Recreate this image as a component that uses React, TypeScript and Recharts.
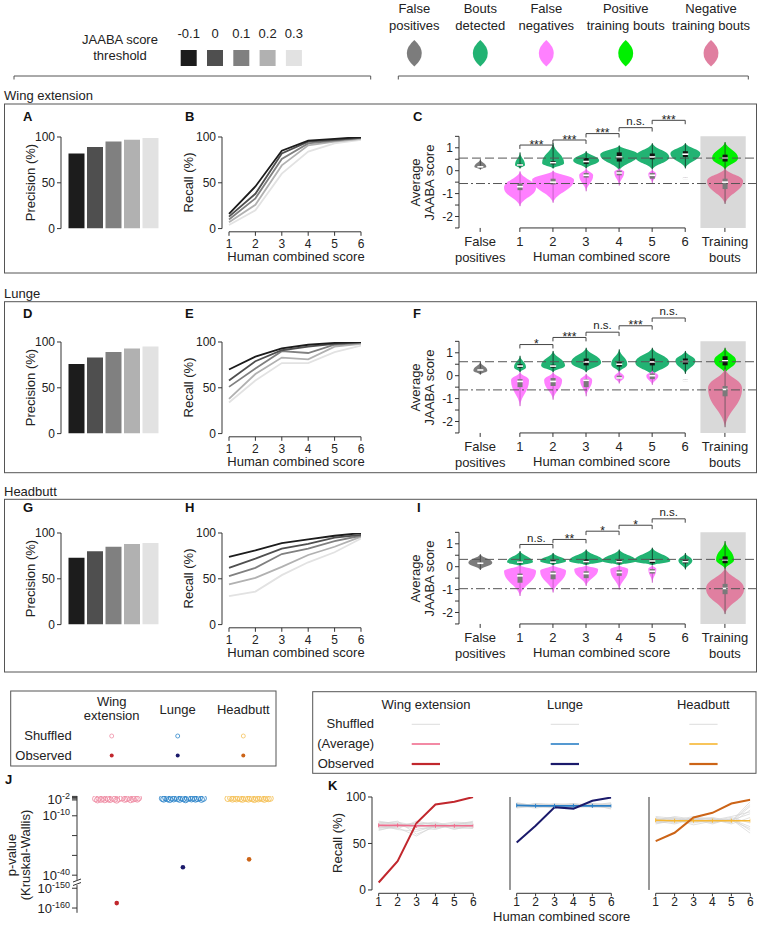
import React from "react"
import {
  BarChart,
  Bar,
  Cell,
  LineChart,
  Line,
  ComposedChart,
  Scatter,
  XAxis,
  YAxis,
  ReferenceLine,
  ReferenceArea,
} from "recharts"

const FONT = "'Liberation Sans', Arial, Helvetica, sans-serif"
const INK = "#222"
const AXIS = "#333"

// ---------- categories / legend ----------
const thresholdLabels = ["-0.1", "0", "0.1", "0.2", "0.3"]
const thresholdColors = ["#1c1c1c", "#4f4f4f", "#808080", "#b1b1b1", "#e2e2e2"]
const humanScores = [1, 2, 3, 4, 5, 6]
const behaviours = ["Wing extension", "Lunge", "Headbutt"]
const violinLegend = [
  ["False", "positives"],
  ["Bouts", "detected"],
  ["False", "negatives"],
  ["Positive", "training bouts"],
  ["Negative", "training bouts"],
]

// ---------- precision (%) per threshold ----------
const precisionWing = [82, 89, 95, 97, 99]
const precisionLunge = [76, 83, 89, 93, 95]
const precisionHeadbutt = [73, 80, 85, 88, 89]

// ---------- recall (%) per threshold, by human score ----------
const recallWing = [
  [16, 46, 85, 96, 98, 100],
  [13, 38, 82, 95, 97, 99],
  [10, 33, 76, 93, 96, 99],
  [7, 26, 69, 91, 95, 98],
  [4, 20, 60, 84, 93, 97],
]
const recallLunge = [
  [70, 84, 93, 97, 99, 100],
  [58, 79, 91, 95, 98, 100],
  [51, 71, 90, 88, 97, 99],
  [38, 65, 83, 81, 95, 98],
  [34, 58, 77, 77, 89, 96],
]
const recallHeadbutt = [
  [74, 81, 89, 93, 97, 100],
  [62, 72, 83, 88, 95, 98],
  [53, 62, 77, 83, 91, 97],
  [44, 51, 63, 76, 85, 96],
  [31, 36, 54, 68, 79, 94],
]

// ---------- violins: [slot, kind, min, max, mode, density, q1, median, q3] ----------
type Kind = "fp" | "det" | "fn" | "pos" | "neg"
type Violin = [string | number, Kind, number, number, number, number, number, number, number]

const violinsWing: Violin[] = [
  ["fp", "fp", 0.05, 0.5, 0.17, 0.3, 0.12, 0.17, 0.22],
  [1, "det", 0.1, 0.8, 0.25, 0.25, 0.2, 0.25, 0.3],
  [2, "det", 0.1, 1.2, 0.33, 0.55, 0.28, 0.35, 0.42],
  [3, "det", 0.1, 0.85, 0.45, 0.65, 0.3, 0.4, 0.55],
  [4, "det", 0.0, 1.1, 0.7, 0.95, 0.4, 0.6, 0.8],
  [5, "det", 0.05, 1.2, 0.6, 0.85, 0.5, 0.6, 0.75],
  [6, "det", 0.1, 1.2, 0.75, 0.75, 0.6, 0.72, 0.85],
  [1, "fn", -1.55, -0.03, -0.75, 0.8, -0.85, -0.7, -0.55],
  [2, "fn", -1.4, 0.0, -0.4, 1.05, -0.6, -0.5, -0.35],
  [3, "fn", -0.9, 0.1, -0.2, 0.35, -0.3, -0.2, -0.1],
  [4, "fn", -0.65, 0.1, -0.05, 0.25, -0.2, -0.1, 0.0],
  [5, "fn", -0.55, 0.05, -0.15, 0.2, -0.35, -0.2, -0.1],
  [6, "fn", -0.36, -0.3, -0.33, 0, -0.36, -0.33, -0.3],
  ["tr", "pos", 0.05, 1.25, 0.55, 0.65, 0.4, 0.55, 0.7],
  ["tr", "neg", -1.45, 0.1, -0.45, 0.9, -0.8, -0.5, -0.35],
]
const violinsLunge: Violin[] = [
  ["fp", "fp", 0.05, 0.6, 0.23, 0.35, 0.18, 0.25, 0.32],
  [1, "det", 0.15, 0.87, 0.37, 0.3, 0.35, 0.42, 0.5],
  [2, "det", 0.15, 1.08, 0.44, 0.6, 0.35, 0.42, 0.48],
  [3, "det", 0.15, 1.22, 0.58, 0.75, 0.45, 0.6, 0.75],
  [4, "det", 0.15, 1.15, 0.5, 0.4, 0.4, 0.5, 0.6],
  [5, "det", 0.0, 1.22, 0.58, 0.85, 0.45, 0.6, 0.75],
  [6, "det", 0.08, 1.08, 0.65, 0.5, 0.5, 0.62, 0.75],
  [1, "fn", -1.33, 0.15, -0.2, 0.45, -0.5, -0.25, -0.15],
  [2, "fn", -1.05, 0.15, -0.2, 0.45, -0.45, -0.25, -0.1],
  [3, "fn", -0.9, 0.08, -0.2, 0.3, -0.5, -0.2, -0.15],
  [4, "fn", -0.34, 0.22, -0.05, 0.25, -0.15, -0.1, 0.0],
  [5, "fn", -0.4, 0.22, 0.0, 0.3, -0.15, 0.0, 0.1],
  [6, "fn", -0.23, -0.17, -0.2, 0, -0.23, -0.2, -0.17],
  ["tr", "pos", 0.08, 1.22, 0.65, 0.55, 0.45, 0.65, 0.85],
  ["tr", "neg", -2.25, 0.3, -0.55, 0.85, -0.9, -0.6, -0.45],
]
const violinsHeadbutt: Violin[] = [
  ["fp", "fp", -0.14, 0.54, 0.17, 0.6, 0.12, 0.15, 0.2],
  [1, "det", 0.03, 0.68, 0.2, 0.65, 0.15, 0.2, 0.25],
  [2, "det", 0.06, 0.6, 0.25, 0.65, 0.15, 0.2, 0.28],
  [3, "det", 0.06, 0.75, 0.25, 0.85, 0.15, 0.22, 0.32],
  [4, "det", 0.06, 0.75, 0.25, 0.85, 0.15, 0.22, 0.32],
  [5, "det", 0.06, 0.83, 0.25, 0.9, 0.15, 0.25, 0.32],
  [6, "det", -0.12, 0.6, 0.27, 0.35, 0.15, 0.22, 0.3],
  [1, "fn", -1.28, 0.06, -0.19, 0.8, -0.7, -0.4, -0.3],
  [2, "fn", -1.13, 0.06, -0.19, 0.65, -0.55, -0.3, -0.2],
  [3, "fn", -0.84, 0.06, -0.12, 0.6, -0.5, -0.3, -0.2],
  [4, "fn", -1.0, 0.06, -0.12, 0.45, -0.4, -0.25, -0.15],
  [5, "fn", -0.7, 0.06, -0.1, 0.2, -0.3, -0.2, -0.1],
  ["tr", "pos", -0.1, 1.12, 0.3, 0.45, 0.15, 0.3, 0.45],
  ["tr", "neg", -2.07, -0.05, -0.96, 0.95, -1.2, -0.95, -0.75],
]

// JAABA thresholds drawn as dashed (positive) and dash-dot (negative) lines
const scoreThresholdsWing = [0.55, -0.56]
const scoreThresholdsLunge = [0.61, -0.62]
const scoreThresholdsHeadbutt = [0.32, -0.96]

// significance: [from, to, bracket level, label]
type Sig = [number, number, number, string]
const sigWing: Sig[] = [
  [1, 2, 1.12, "***"],
  [2, 3, 1.34, "***"],
  [3, 4, 1.62, "***"],
  [4, 5, 1.88, "n.s."],
  [5, 6, 2.2, "***"],
]
const sigLunge: Sig[] = [
  [1, 2, 1.36, "*"],
  [2, 3, 1.67, "***"],
  [3, 4, 1.9, "n.s."],
  [4, 5, 2.18, "***"],
  [5, 6, 2.52, "n.s."],
]
const sigHeadbutt: Sig[] = [
  [1, 2, 0.97, "n.s."],
  [2, 3, 1.19, "**"],
  [3, 4, 1.55, "*"],
  [4, 5, 1.81, "*"],
  [5, 6, 2.09, "n.s."],
]

// ---------- J: Kruskal-Wallis p-values, as -log10(p) ----------
// shuffled: [jitter within category, -log10 p]
const shuffledPWing = [
  [-0.32, 1.4], [-0.29, 2.0], [-0.27, 1.1], [-0.24, 1.7], [-0.21, 1.3], [-0.18, 1.9],
  [-0.15, 1.0], [-0.13, 1.5], [-0.1, 1.8], [-0.06, 1.2], [-0.03, 1.6], [0.0, 2.1],
  [0.04, 1.3], [0.08, 1.0], [0.12, 1.7], [0.15, 1.4], [0.18, 1.1], [0.21, 1.9],
  [0.25, 1.5], [0.28, 1.2], [0.31, 1.6], [0.33, 1.0],
]
const shuffledPLunge = [
  [-0.31, 1.2], [-0.29, 1.6], [-0.26, 0.9], [-0.23, 1.4], [-0.2, 1.8], [-0.17, 1.1],
  [-0.14, 1.5], [-0.11, 0.8], [-0.08, 1.3], [-0.05, 1.7], [-0.02, 1.0], [0.01, 1.4],
  [0.04, 1.9], [0.07, 1.2], [0.1, 0.9], [0.13, 1.5], [0.16, 1.1], [0.19, 1.6],
  [0.22, 1.3], [0.25, 0.9], [0.28, 1.7], [0.31, 1.2],
]
const shuffledPHeadbutt = [
  [-0.32, 1.3], [-0.28, 1.0], [-0.25, 1.6], [-0.22, 1.2], [-0.19, 1.5], [-0.16, 0.9],
  [-0.13, 1.4], [-0.1, 1.7], [-0.07, 1.1], [-0.04, 1.3], [-0.01, 1.6], [0.02, 1.0],
  [0.05, 1.4], [0.08, 1.8], [0.11, 1.2], [0.14, 1.5], [0.17, 1.0], [0.2, 1.3],
  [0.23, 1.7], [0.26, 1.1], [0.29, 1.4], [0.32, 1.2],
]
const observedP = [157.5, 36, 32]
const pTickExponents = [0.2, 0.8, 1.4, 2, 10, 20, 30, 40, 150, 160]
const pTickLabelled = [2, 10, 40, 150, 160]

// ---------- K: recall (%) observed vs shuffled ----------
const shuffledRecallWing = [
  [70, 72, 68, 71, 69, 70],
  [67, 69, 72, 66, 70, 68],
  [73, 70, 65, 69, 72, 71],
  [65, 68, 70, 72, 67, 69],
  [71, 74, 60, 68, 70, 73],
  [68, 66, 74, 70, 66, 67],
  [74, 71, 67, 65, 71, 70],
  [66, 70, 71, 73, 68, 66],
  [69, 67, 58, 70, 73, 72],
  [72, 73, 69, 67, 69, 68],
  [64, 69, 72, 71, 65, 70],
  [70, 65, 63, 69, 70, 74],
]
const shuffledRecallLunge = [
  [91, 92, 90, 93, 91, 90],
  [89, 90, 92, 90, 89, 92],
  [93, 91, 89, 91, 93, 91],
  [90, 93, 91, 89, 90, 88],
  [92, 89, 93, 92, 91, 93],
  [88, 91, 90, 90, 92, 90],
  [94, 90, 88, 92, 90, 91],
  [90, 92, 92, 88, 91, 94],
  [91, 88, 91, 93, 89, 89],
  [92, 91, 90, 91, 93, 92],
  [89, 93, 92, 90, 90, 90],
  [93, 90, 89, 91, 92, 87],
]
const shuffledRecallHeadbutt = [
  [75, 77, 74, 76, 75, 82],
  [72, 74, 77, 73, 76, 68],
  [78, 75, 72, 75, 73, 90],
  [74, 79, 76, 71, 77, 64],
  [76, 72, 78, 77, 72, 86],
  [73, 76, 70, 74, 78, 72],
  [77, 73, 75, 78, 74, 95],
  [71, 75, 79, 72, 76, 61],
  [79, 77, 73, 76, 71, 78],
  [74, 71, 76, 75, 79, 84],
  [76, 78, 74, 73, 75, 66],
  [73, 74, 77, 77, 74, 92],
]
const averageRecallWing = [69.5, 69.5, 69, 69, 69, 69]
const averageRecallLunge = [91, 90.5, 90.5, 90.5, 90.5, 90.5]
const averageRecallHeadbutt = [75, 74.5, 74.5, 74.5, 74.5, 74.5]
const observedRecallWing = [8, 31, 72, 92, 95, 100]
const observedRecallLunge = [51, 69, 89, 87.5, 96, 99.5]
const observedRecallHeadbutt = [52.5, 61.5, 78, 83, 93, 97]

// ---------- colours ----------
const violinFill: Record<Kind, string> = {
  fp: "#7c7c7c",
  det: "#22b373",
  fn: "#ff80ff",
  pos: "#00f000",
  neg: "#e07fa0",
}
const whiskerColor: Record<Kind, string> = {
  fp: "#444",
  det: "#123d29",
  fn: "#c25ec2",
  pos: "#1d4d1d",
  neg: "#6b5560",
}
const boxColor: Record<Kind, string> = { fp: "#777", det: "#111", fn: "#7a7a7a", pos: "#111", neg: "#7a7a7a" }
const behaviourColors = [
  { observed: "#c1272d", average: "#f06d8e", shuffledDot: "#ef8fa6" },
  { observed: "#1b1a6b", average: "#2a7fc6", shuffledDot: "#2f86c9" },
  { observed: "#cc6417", average: "#f7b731", shuffledDot: "#f5c25a" },
]
const SHUFFLED_LINE = "#d4d4d4"

// ---------- layout ----------
const ROW_TOPS = [136.7, 341.7, 532.7]
const CORE_H = 91.6
const FP_X = -0.2
const TR_X = 7.2
const MAX_HALF_WIDTH = 20
const slotToX = (s: string | number) => (s === "fp" ? FP_X : s === "tr" ? TR_X : Number(s))

function PrecisionPanel({ values, top }: { values: number[]; top: number }) {
  const data = thresholdLabels.map((t, i) => ({ t, v: values[i] }))
  return (
    <div style={{ position: "absolute", left: 0, top: top - 10 }}>
      <BarChart width={170} height={CORE_H + 20} data={data} margin={{ top: 10, right: 10, bottom: 10, left: 0 }}>
        <XAxis dataKey="t" hide padding={{ left: 6.5, right: 0 }} />
        <YAxis
          type="number"
          domain={[0, 100]}
          ticks={[0, 50, 100]}
          width={61}
          tickSize={4}
          interval={0}
          stroke={AXIS}
          tick={{ fontSize: 12, fill: INK }}
          allowDataOverflow
        />
        <Bar dataKey="v" barSize={16} isAnimationActive={false}>
          {data.map((_, i) => (
            <Cell key={i} fill={thresholdColors[i]} />
          ))}
        </Bar>
      </BarChart>
    </div>
  )
}

function RecallPanel({ lines, top }: { lines: number[][]; top: number }) {
  const data = humanScores.map((s, i) => {
    const row: Record<string, number> = { score: s }
    lines.forEach((l, j) => (row[`t${j}`] = l[i]))
    return row
  })
  const x0 = 0.735
  return (
    <div style={{ position: "absolute", left: 170, top: top - 10 }}>
      <LineChart width={199} height={10 + 94.8 + 30} data={data} margin={{ top: 10, right: 8, bottom: 0, left: 0 }}>
        <XAxis
          type="number"
          dataKey="score"
          domain={[x0, 6]}
          ticks={humanScores}
          axisLine={false}
          tickSize={4}
          tickMargin={4}
          height={30}
          interval={0}
          stroke={AXIS}
          tick={{ fontSize: 12, fill: INK }}
          allowDataOverflow
        />
        <YAxis
          type="number"
          domain={[-3.5, 100]}
          ticks={[0, 50, 100]}
          axisLine={false}
          width={52}
          tickSize={4}
          interval={0}
          stroke={AXIS}
          tick={{ fontSize: 12, fill: INK }}
          allowDataOverflow
        />
        <ReferenceLine segment={[{ x: x0, y: 0 }, { x: x0, y: 100 }]} stroke={AXIS} ifOverflow="visible" />
        <ReferenceLine segment={[{ x: 1, y: -3.5 }, { x: 6, y: -3.5 }]} stroke={AXIS} ifOverflow="visible" />
        {lines
          .map((_, j) => j)
          .reverse()
          .map((j) => (
            <Line
              key={j}
              type="linear"
              dataKey={`t${j}`}
              stroke={thresholdColors[j]}
              strokeWidth={1.8}
              dot={false}
              isAnimationActive={false}
            />
          ))}
      </LineChart>
    </div>
  )
}

function ViolinShape(props: any) {
  const d = props.payload ?? props
  const { x, y, width, height } = props
  if (d == null || d.hi == null) return null
  const cx = x + width / 2
  const top = Math.min(y, y + height)
  const span = Math.abs(height)
  const kind: Kind = d.kind
  const at = (v: number) => top + (span * (d.hi - v)) / (d.hi - d.lo || 1)
  const yp = at(d.peak)
  const bot = top + span
  const w = d.density * MAX_HALF_WIDTH
  const up = yp - top
  const dn = bot - yp
  const path =
    `M${cx},${top} ` +
    `C${cx + w * 0.15},${top + up * 0.45} ${cx + w},${yp - up * 0.45} ${cx + w},${yp} ` +
    `C${cx + w},${yp + dn * 0.45} ${cx + w * 0.15},${bot - dn * 0.45} ${cx},${bot} ` +
    `C${cx - w * 0.15},${bot - dn * 0.45} ${cx - w},${yp + dn * 0.45} ${cx - w},${yp} ` +
    `C${cx - w},${yp - up * 0.45} ${cx - w * 0.15},${top + up * 0.45} ${cx},${top} Z`
  const yq3 = at(d.q3)
  const yq1 = at(d.q1)
  const ym = at(d.med)
  return (
    <g>
      {w > 0 && <path d={path} fill={violinFill[kind]} />}
      <line x1={cx} x2={cx} y1={top} y2={bot} stroke={whiskerColor[kind]} strokeWidth={0.9} />
      <rect x={cx - 2.5} y={yq3} width={5} height={Math.max(yq1 - yq3, 1.5)} fill={boxColor[kind]} />
      <line x1={cx - 3} x2={cx + 3} y1={ym} y2={ym} stroke="#fff" strokeWidth={1.6} />
    </g>
  )
}

function ViolinTick(props: any) {
  const { x, y, payload } = props
  const v = payload.value
  const lines = v === FP_X ? ["False", "positives"] : v === TR_X ? ["Training", "bouts"] : [String(v)]
  return (
    <text x={x} y={y} textAnchor="middle" fontSize={13} fill={INK}>
      {lines.map((l, i) => (
        <tspan key={i} x={x} dy={i === 0 ? 12.5 : 15.5}>
          {l}
        </tspan>
      ))}
    </text>
  )
}

function ViolinPanel({
  violins,
  sig,
  thresholds,
  top,
}: {
  violins: Violin[]
  sig: Sig[]
  thresholds: number[]
  top: number
}) {
  const data = violins.map(([slot, kind, lo, hi, peak, density, q1, med, q3]) => ({
    x: slotToX(slot),
    kind,
    lo,
    hi,
    peak,
    density,
    q1,
    med,
    q3,
  }))
  const sigLabels = sig.map(([a, b, lvl, label]) => ({ x: (a + b) / 2, y: lvl, label }))
  const xMin = -0.84
  const plotH = 5.5 * (CORE_H / 4)
  return (
    <div style={{ position: "absolute", left: 400, top: top - 1.5 * (CORE_H / 4) - 2 }}>
      <ComposedChart width={356} height={2 + plotH + 40} data={data} margin={{ top: 2, right: 0, bottom: 0, left: 0 }}>
        <XAxis
          type="number"
          dataKey="x"
          domain={[xMin, 8.14]}
          ticks={[FP_X, 1, 2, 3, 4, 5, 6, TR_X]}
          tick={(p: any) => <ViolinTick {...p} />}
          tickSize={4}
          tickMargin={2}
          axisLine={false}
          interval={0}
          height={40}
          stroke={AXIS}
          allowDataOverflow
        />
        <YAxis
          type="number"
          domain={[-2.5, 3]}
          ticks={[-2.5, -2, -1.5, -1, -0.5, 0, 0.5, 1, 1.5]}
          tickFormatter={(v: number) => (Number.isInteger(v) ? String(v) : "")}
          width={59}
          axisLine={false}
          tickSize={4}
          interval={0}
          stroke={AXIS}
          tick={{ fontSize: 12, fill: INK }}
          allowDataOverflow
        />
        <ReferenceArea x1={6.46} x2={7.83} y1={-2.5} y2={1.5} fill="#d9d9d9" fillOpacity={1} stroke="none" />
        <ReferenceLine segment={[{ x: xMin, y: -2.5 }, { x: xMin, y: 1.5 }]} stroke={AXIS} ifOverflow="visible" />
        <ReferenceLine segment={[{ x: 1, y: -2.5 }, { x: 6, y: -2.5 }]} stroke={AXIS} ifOverflow="visible" />
        <Bar
          dataKey={(d: any) => [d.lo, d.hi]}
          barSize={20}
          isAnimationActive={false}
          shape={(p: any) => <ViolinShape {...p} />}
        />
        <ReferenceLine y={thresholds[0]} stroke="#555" strokeDasharray="9 4" />
        <ReferenceLine y={thresholds[1]} stroke="#555" strokeDasharray="9 3 2 3" />
        {sig.map(([a, b, lvl], i) => (
          <React.Fragment key={i}>
            <ReferenceLine segment={[{ x: a, y: lvl }, { x: b, y: lvl }]} stroke="#444" ifOverflow="visible" />
            <ReferenceLine segment={[{ x: a, y: lvl }, { x: a, y: lvl - 0.17 }]} stroke="#444" ifOverflow="visible" />
            <ReferenceLine segment={[{ x: b, y: lvl }, { x: b, y: lvl - 0.17 }]} stroke="#444" ifOverflow="visible" />
          </React.Fragment>
        ))}
        <Scatter
          data={sigLabels}
          dataKey="y"
          isAnimationActive={false}
          shape={(p: any) => {
            const ns = p.payload.label === "n.s."
            return (
              <text
                x={p.cx}
                y={ns ? p.cy - 2.7 : p.cy + 3.5}
                textAnchor="middle"
                fontSize={ns ? 11.5 : 12}
                fill={INK}
              >
                {p.payload.label}
              </text>
            )
          }}
        />
      </ComposedChart>
    </div>
  )
}

// J: two-segment (broken) axis for -log10 p
const BREAK_SHIFT = 103.4
const toBrokenAxis = (e: number) => (e > 100 ? e - BREAK_SHIFT : e)

function PTick(props: any) {
  const { x, y, payload } = props
  const v = payload.value
  const e = Math.round((v > 44 ? v + BREAK_SHIFT : v) * 10) / 10
  if (!pTickLabelled.includes(e)) return null
  return (
    <text x={x} y={y + 4.5} textAnchor="end" fontSize={13} fill={INK}>
      <tspan>10</tspan>
      <tspan dy={-5} fontSize={9}>{`-${e}`}</tspan>
    </text>
  )
}

function PValuePanel() {
  const groups = [shuffledPWing, shuffledPLunge, shuffledPHeadbutt]
  const x0 = 0.4
  return (
    <div style={{ position: "absolute", left: 0, top: 786 }}>
      <ComposedChart width={290} height={130.8} margin={{ top: 10, right: 7.8, bottom: 4, left: 0 }}>
        <XAxis type="number" dataKey="x" domain={[x0, 3.5]} hide allowDataOverflow />
        <YAxis
          type="number"
          reversed
          domain={[0, 59]}
          ticks={pTickExponents.map(toBrokenAxis)}
          tick={(p: any) => <PTick {...p} />}
          width={77}
          tickSize={5}
          interval={0}
          axisLine={false}
          stroke={AXIS}
          allowDataOverflow
        />
        <ReferenceLine segment={[{ x: x0, y: 0 }, { x: x0, y: 42.4 }]} stroke={AXIS} ifOverflow="visible" />
        <ReferenceLine segment={[{ x: x0, y: 45 }, { x: x0, y: 59 }]} stroke={AXIS} ifOverflow="visible" />
        {groups.map((g, gi) => (
          <Scatter
            key={`s${gi}`}
            data={g.map(([dx, e]) => ({ x: gi + 1 + dx, y: toBrokenAxis(e) }))}
            dataKey="y"
            isAnimationActive={false}
            shape={(p: any) => (
              <circle cx={p.cx} cy={p.cy} r={3} fill="none" stroke={behaviourColors[gi].shuffledDot} strokeWidth={0.9} />
            )}
          />
        ))}
        {observedP.map((e, gi) => (
          <Scatter
            key={`o${gi}`}
            data={[{ x: gi + 1, y: toBrokenAxis(e) }]}
            dataKey="y"
            isAnimationActive={false}
            shape={(p: any) => <circle cx={p.cx} cy={p.cy} r={2.3} fill={behaviourColors[gi].observed} />}
          />
        ))}
      </ComposedChart>
    </div>
  )
}

function ShuffleRecallPanel({
  left,
  shuffled,
  average,
  observed,
  colors,
  showTicks,
}: {
  left: number
  shuffled: number[][]
  average: number[]
  observed: number[]
  colors: { observed: string; average: string }
  showTicks: boolean
}) {
  const data = humanScores.map((s, i) => {
    const row: Record<string, number> = { score: s, avg: average[i], obs: observed[i] }
    shuffled.forEach((l, j) => (row[`s${j}`] = l[i]))
    return row
  })
  const x0 = 0.647
  return (
    <div style={{ position: "absolute", left, top: 786.7 }}>
      <LineChart width={160} height={10 + 96.3 + 20} data={data} margin={{ top: 10, right: 6.7, bottom: 0, left: 0 }}>
        <XAxis
          type="number"
          dataKey="score"
          domain={[x0, 6]}
          ticks={humanScores}
          axisLine={false}
          tickSize={3}
          tickMargin={1}
          height={20}
          interval={0}
          stroke={AXIS}
          tick={{ fontSize: 12, fill: INK }}
          allowDataOverflow
        />
        <YAxis
          type="number"
          domain={[-3.6, 100]}
          ticks={[0, 50, 100]}
          axisLine={false}
          tick={showTicks ? { fontSize: 12, fill: INK } : false}
          tickLine={showTicks}
          width={52}
          tickSize={4}
          interval={0}
          stroke={AXIS}
          allowDataOverflow
        />
        <ReferenceLine segment={[{ x: x0, y: 0 }, { x: x0, y: 100 }]} stroke={AXIS} ifOverflow="visible" />
        <ReferenceLine segment={[{ x: 1, y: -3.6 }, { x: 6, y: -3.6 }]} stroke={AXIS} ifOverflow="visible" />
        {shuffled.map((_, j) => (
          <Line
            key={j}
            dataKey={`s${j}`}
            stroke={SHUFFLED_LINE}
            strokeWidth={0.7}
            dot={false}
            isAnimationActive={false}
          />
        ))}
        <Line
          dataKey="avg"
          stroke={colors.average}
          strokeWidth={1.6}
          isAnimationActive={false}
          dot={(p: any) => (
            <line
              key={`d${p.index}`}
              x1={p.cx}
              x2={p.cx}
              y1={p.cy - 2}
              y2={p.cy + 2}
              stroke={colors.average}
              strokeWidth={1}
            />
          )}
        />
        <Line dataKey="obs" stroke={colors.observed} strokeWidth={2} dot={false} isAnimationActive={false} />
      </LineChart>
    </div>
  )
}

function lens(cx: number, cy: number, w: number, h: number) {
  return `M${cx},${cy - h} Q${cx + 2 * w},${cy} ${cx},${cy + h} Q${cx - 2 * w},${cy} ${cx},${cy - h} Z`
}

function Overlay() {
  const legendX = [414.3, 480.3, 546.3, 625.7, 711]
  const legendKinds: Kind[] = ["fp", "det", "fn", "pos", "neg"]
  const boxes = [
    [104, 273],
    [301.7, 472.7],
    [499.3, 672],
  ]
  const titleBase = [100, 297.5, 496]
  const letters = [
    ["A", "B", "C"],
    ["D", "E", "F"],
    ["G", "H", "I"],
  ]
  const letterBase = [121, 318, 512]
  const t = { fontSize: 13, fill: INK } as const
  return (
    <svg width={760} height={925} style={{ position: "absolute", left: 0, top: 0 }}>
      {/* threshold legend */}
      <text x={120} y={43.9} textAnchor="middle" {...t}>
        JAABA score
      </text>
      <text x={120} y={59.6} textAnchor="middle" {...t}>
        threshold
      </text>
      {thresholdLabels.map((l, i) => (
        <g key={l}>
          <text x={188.7 + 26.3 * i} y={37.9} textAnchor="middle" {...t}>
            {l}
          </text>
          <rect x={180.7 + 26.3 * i} y={50} width={16} height={16} fill={thresholdColors[i]} />
        </g>
      ))}
      <path d="M14,79.5 V76 H370.7 V79.5" fill="none" stroke="#555" />
      {/* violin legend */}
      {violinLegend.map((lines, i) => (
        <g key={i}>
          <text x={legendX[i]} y={12.9} textAnchor="middle" {...t}>
            {lines[0]}
          </text>
          <text x={legendX[i]} y={29.6} textAnchor="middle" {...t}>
            {lines[1]}
          </text>
          <path d={lens(legendX[i], 53.3, 7.5, 13.3)} fill={violinFill[legendKinds[i]]} />
        </g>
      ))}
      <path d="M398.3,79.5 V76 H748.3 V79.5" fill="none" stroke="#555" />

      {/* behaviour sections */}
      {behaviours.map((b, r) => (
        <g key={b}>
          <text x={4} y={titleBase[r]} {...t}>
            {b}
          </text>
          <rect x={4.5} y={boxes[r][0]} width={752} height={boxes[r][1] - boxes[r][0]} fill="none" stroke="#555" />
          <text x={23} y={letterBase[r]} fontSize={13} fontWeight="bold" fill="#111">
            {letters[r][0]}
          </text>
          <text x={185} y={letterBase[r]} fontSize={13} fontWeight="bold" fill="#111">
            {letters[r][1]}
          </text>
          <text x={r === 2 ? 417 : 413} y={letterBase[r]} fontSize={13} fontWeight="bold" fill="#111">
            {letters[r][2]}
          </text>
          <text transform={`translate(34.5,${ROW_TOPS[r] + CORE_H / 2}) rotate(-90)`} textAnchor="middle" {...t}>
            Precision (%)
          </text>
          <text transform={`translate(192.5,${ROW_TOPS[r] + CORE_H / 2}) rotate(-90)`} textAnchor="middle" {...t}>
            Recall (%)
          </text>
          <text transform={`translate(419.5,${ROW_TOPS[r] + CORE_H / 2}) rotate(-90)`} textAnchor="middle" {...t}>
            Average
          </text>
          <text transform={`translate(433.5,${ROW_TOPS[r] + CORE_H / 2}) rotate(-90)`} textAnchor="middle" {...t}>
            JAABA score
          </text>
          <text x={296} y={ROW_TOPS[r] + 124.6} textAnchor="middle" {...t}>
            Human combined score
          </text>
          <text x={601.7} y={ROW_TOPS[r] + 124.6} textAnchor="middle" {...t}>
            Human combined score
          </text>
        </g>
      ))}

      {/* J legend */}
      <rect x={10.7} y={691} width={265.3} height={75} fill="none" stroke="#555" />
      <text x={111.7} y={706.3} textAnchor="middle" {...t}>
        Wing
      </text>
      <text x={111.7} y={719.6} textAnchor="middle" {...t}>
        extension
      </text>
      <text x={177.7} y={713.6} textAnchor="middle" {...t}>
        Lunge
      </text>
      <text x={243.3} y={713.6} textAnchor="middle" {...t}>
        Headbutt
      </text>
      <text x={71.7} y={739.6} textAnchor="end" {...t}>
        Shuffled
      </text>
      <text x={71.7} y={759.6} textAnchor="end" {...t}>
        Observed
      </text>
      {[111.7, 177.7, 243.3].map((x, i) => (
        <g key={x}>
          <circle cx={x} cy={736} r={2} fill="none" stroke={behaviourColors[i].shuffledDot} strokeWidth={0.8} />
          <circle cx={x} cy={755.5} r={2} fill={behaviourColors[i].observed} />
        </g>
      ))}

      {/* K legend */}
      <rect x={312.7} y={691.7} width={443.3} height={81.6} fill="none" stroke="#555" />
      {behaviours.map((b, i) => (
        <text key={b} x={[426, 565, 703.3][i]} y={708.6} textAnchor="middle" {...t}>
          {b}
        </text>
      ))}
      <text x={374} y={728} textAnchor="end" {...t}>
        Shuffled
      </text>
      <text x={374} y={748} textAnchor="end" {...t}>
        (Average)
      </text>
      <text x={374} y={768} textAnchor="end" {...t}>
        Observed
      </text>
      {[411.7, 550.7, 689.3].map((x, i) => (
        <g key={x}>
          <line x1={x} x2={x + 28.3} y1={724.3} y2={724.3} stroke="#ddd" strokeWidth={1} />
          <line x1={x} x2={x + 28.3} y1={744} y2={744} stroke={behaviourColors[i].average} strokeWidth={1.6} />
          <line x1={x} x2={x + 28.3} y1={764} y2={764} stroke={behaviourColors[i].observed} strokeWidth={2.2} />
        </g>
      ))}

      {/* J / K titles */}
      <text x={5} y={784} fontSize={13} fontWeight="bold" fill="#111">
        J
      </text>
      <text transform="translate(15.5,855) rotate(-90)" textAnchor="middle" {...t}>
        p-value
      </text>
      <text transform="translate(29.5,855) rotate(-90)" textAnchor="middle" {...t}>
        (Kruskal-Wallis)
      </text>
      <line x1={73} x2={81} y1={882} y2={879} stroke={AXIS} />
      <line x1={73} x2={81} y1={885.5} y2={882.5} stroke={AXIS} />
      <text x={328} y={790} fontSize={13} fontWeight="bold" fill="#111">
        K
      </text>
      <text transform="translate(342,843) rotate(-90)" textAnchor="middle" {...t}>
        Recall (%)
      </text>
      <text x={561.7} y={921.3} textAnchor="middle" {...t}>
        Human combined score
      </text>
    </svg>
  )
}

export default function App() {
  const precision = [precisionWing, precisionLunge, precisionHeadbutt]
  const recall = [recallWing, recallLunge, recallHeadbutt]
  const violins = [violinsWing, violinsLunge, violinsHeadbutt]
  const sigs = [sigWing, sigLunge, sigHeadbutt]
  const thr = [scoreThresholdsWing, scoreThresholdsLunge, scoreThresholdsHeadbutt]
  const shuffled = [shuffledRecallWing, shuffledRecallLunge, shuffledRecallHeadbutt]
  const averages = [averageRecallWing, averageRecallLunge, averageRecallHeadbutt]
  const observed = [observedRecallWing, observedRecallLunge, observedRecallHeadbutt]
  return (
    <div
      style={{
        position: "absolute",
        left: 0,
        top: 0,
        width: 760,
        height: 925,
        background: "#fff",
        fontFamily: FONT,
        overflow: "hidden",
      }}
    >
      <Overlay />
      {ROW_TOPS.map((top, r) => (
        <React.Fragment key={r}>
          <PrecisionPanel values={precision[r]} top={top} />
          <RecallPanel lines={recall[r]} top={top} />
          <ViolinPanel violins={violins[r]} sig={sigs[r]} thresholds={thr[r]} top={top} />
        </React.Fragment>
      ))}
      <PValuePanel />
      {[320, 458, 597].map((left, i) => (
        <ShuffleRecallPanel
          key={left}
          left={left}
          shuffled={shuffled[i]}
          average={averages[i]}
          observed={observed[i]}
          colors={behaviourColors[i]}
          showTicks={i === 0}
        />
      ))}
    </div>
  )
}
